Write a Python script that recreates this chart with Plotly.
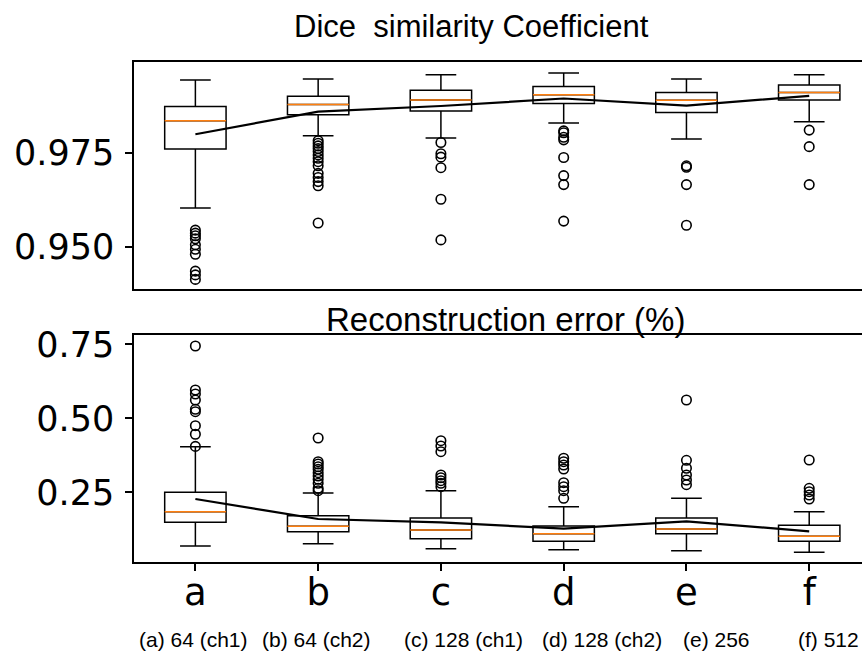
import plotly.graph_objects as go

# ---------------- data ----------------
categories = ["a", "b", "c", "d", "e", "f"]
captions = ["(a) 64 (ch1)", "(b) 64 (ch2)", "(c) 128 (ch1)", "(d) 128 (ch2)", "(e) 256", "(f) 512"]

dice_q1 = [0.9760, 0.9851, 0.9861, 0.9881, 0.9857, 0.9890]
dice_median = [0.9835, 0.9878, 0.9890, 0.9904, 0.9889, 0.9910]
dice_q3 = [0.9873, 0.9900, 0.9916, 0.9926, 0.9910, 0.9930]
dice_low = [0.9603, 0.9795, 0.9789, 0.9829, 0.9786, 0.9832]
dice_high = [0.9943, 0.9946, 0.9957, 0.9962, 0.9946, 0.9957]
dice_mean = [0.9799, 0.9859, 0.9874, 0.9894, 0.9875, 0.9901]
dice_outliers = [
    [0.9544, 0.9536, 0.9529, 0.9521, 0.9505, 0.9493, 0.9480, 0.9435, 0.9425, 0.9413],
    [0.9782, 0.9775, 0.9768, 0.9761, 0.9753, 0.9744, 0.9735, 0.9726, 0.9715, 0.9695, 0.9684, 0.9673, 0.9662, 0.9563],
    [0.9777, 0.9747, 0.9738, 0.9710, 0.9626, 0.9518],
    [0.9808, 0.9803, 0.9791, 0.9784, 0.9737, 0.9689, 0.9665, 0.9568],
    [0.9715, 0.9711, 0.9665, 0.9557],
    [0.9810, 0.9766, 0.9665],
]

rec_q1 = [0.1486, 0.1169, 0.0932, 0.0845, 0.1101, 0.0845]
rec_median = [0.1845, 0.1351, 0.1226, 0.1101, 0.1260, 0.1014]
rec_q3 = [0.2500, 0.1709, 0.1632, 0.1361, 0.1632, 0.1385]
rec_low = [0.0686, 0.0764, 0.0595, 0.0561, 0.0527, 0.0473]
rec_high = [0.4041, 0.2476, 0.2554, 0.2014, 0.2297, 0.1845]
rec_mean = [0.2274, 0.1598, 0.1486, 0.1270, 0.1520, 0.1182]
rec_outliers = [
    [0.7443, 0.5956, 0.5821, 0.5618, 0.5304, 0.5223, 0.4750, 0.4460, 0.4050],
    [0.4334, 0.3534, 0.3456, 0.3365, 0.3277, 0.3162, 0.3051, 0.2939, 0.2804, 0.2635, 0.2554],
    [0.4243, 0.4064, 0.3872, 0.3084, 0.2993, 0.2892, 0.2804, 0.2689],
    [0.3649, 0.3534, 0.3422, 0.3287, 0.2824, 0.2689, 0.2554, 0.2297],
    [0.5618, 0.3581, 0.3311, 0.3084, 0.2916, 0.2757],
    [0.3591, 0.2635, 0.2520, 0.2409, 0.2274],
]

# ---------------- figure ----------------
W, H = 862, 652
ML, MR, MT, MB = 134, 0, 62, 90
PW, PH = W - ML - MR, H - MT - MB

def px_x(px):
    return (px - ML) / PW

def px_y(py):
    return (H - MB - py) / PH

positions = list(range(1, len(categories) + 1))
ORANGE = "#ff7f0e"
LW = 1.5

fig = go.Figure()

def add_panel(q1, med, q3, lo, hi, mean, outliers, xa, ya):
    fig.add_trace(go.Box(
        x=positions, q1=q1, median=med, q3=q3, lowerfence=lo, upperfence=hi,
        width=0.5, whiskerwidth=0.5, boxpoints=False,
        line=dict(color="black", width=LW), fillcolor="rgba(0,0,0,0)",
        xaxis=xa, yaxis=ya, showlegend=False, hoverinfo="skip"))
    fig.add_trace(go.Box(
        x=positions, q1=med, median=med, q3=med, lowerfence=med, upperfence=med,
        width=0.5, whiskerwidth=0.0, boxpoints=False,
        line=dict(color=ORANGE, width=LW), fillcolor="rgba(0,0,0,0)",
        xaxis=xa, yaxis=ya, showlegend=False, hoverinfo="skip"))
    ox, oy = [], []
    for p, vals in zip(positions, outliers):
        ox += [p] * len(vals)
        oy += vals
    fig.add_trace(go.Scatter(
        x=ox, y=oy, mode="markers",
        marker=dict(symbol="circle-open", size=9.5, color="black", line=dict(width=1.6)),
        xaxis=xa, yaxis=ya, showlegend=False, hoverinfo="skip"))
    fig.add_trace(go.Scatter(
        x=positions, y=mean, mode="lines", line=dict(color="black", width=2.2),
        xaxis=xa, yaxis=ya, showlegend=False, hoverinfo="skip"))

add_panel(dice_q1, dice_median, dice_q3, dice_low, dice_high, dice_mean, dice_outliers, "x2", "y2")
add_panel(rec_q1, rec_median, rec_q3, rec_low, rec_high, rec_mean, rec_outliers, "x", "y")

tickfont = dict(family="DejaVu Sans", size=35, color="black")
common_y = dict(showline=True, linecolor="black", linewidth=LW, ticks="outside",
                ticklen=7, tickwidth=LW, tickcolor="black", showgrid=False,
                zeroline=False, tickfont=tickfont, ticklabelstandoff=4)

fig.update_layout(
    width=W, height=H, margin=dict(l=ML, r=MR, t=MT, b=MB),
    paper_bgcolor="white", plot_bgcolor="white", boxmode="overlay",
    xaxis=dict(domain=[0, 1], anchor="y", range=[0.5, 6.43], tickvals=positions,
               ticktext=categories, showline=True, mirror=True, linecolor="black",
               linewidth=LW, ticks="outside", ticklen=7, tickwidth=LW,
               tickcolor="black", showgrid=False, zeroline=False,
               ticklabelstandoff=-10,
               tickfont=dict(family="DejaVu Sans", size=37, color="black")),
    xaxis2=dict(domain=[0, 1], anchor="y2", range=[0.5, 6.43], showticklabels=False,
                ticks="", showline=True, mirror=True, linecolor="black",
                linewidth=LW, showgrid=False, zeroline=False),
    yaxis=dict(domain=[0, px_y(335)], anchor="x", range=[0.0145, 0.7814],
               tickvals=[0.25, 0.50, 0.75], tickformat=".2f", **common_y),
    yaxis2=dict(domain=[px_y(289), 1], anchor="x2", range=[0.93875, 0.9991],
                tickvals=[0.950, 0.975], tickformat=".3f", **common_y),
)

annotations = [
    dict(text="Dice&nbsp;&nbsp;similarity Coefficient", x=px_x(471.5), y=px_y(27),
         font=dict(family="Liberation Sans", size=31, color="black")),
    dict(text="Reconstruction error (%)", x=px_x(505), y=px_y(319),
         font=dict(family="Liberation Sans", size=33, color="black")),
]
caption_x = [137, 260, 402, 540, 681, 796]
for cx, cap in zip(caption_x, captions):
    annotations.append(dict(text=cap, x=px_x(cx), y=px_y(639), xanchor="left",
                            font=dict(family="Liberation Sans", size=21, color="black")))
for a in annotations:
    a.setdefault("xanchor", "center")
    a.update(xref="paper", yref="paper", yanchor="middle", showarrow=False)
fig.update_layout(annotations=annotations)

fig.write_html("out.html")
